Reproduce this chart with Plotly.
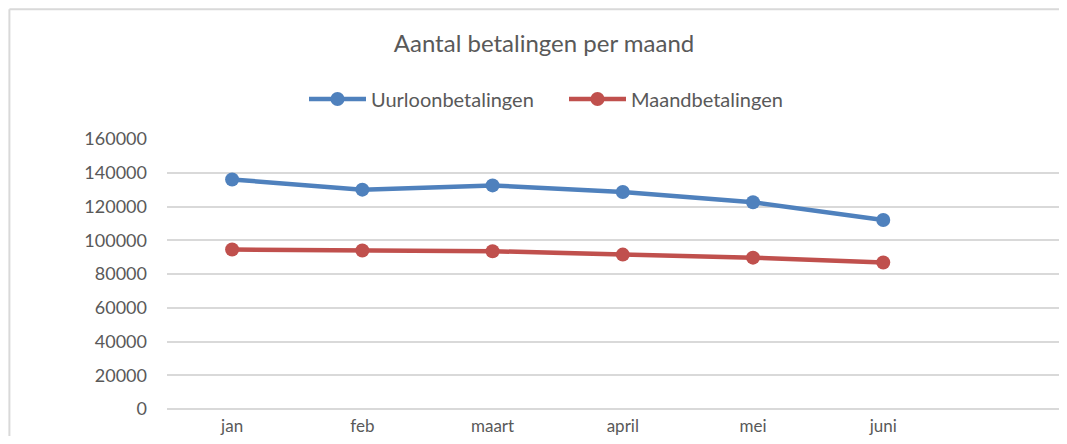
import plotly.graph_objects as go

months = ["jan", "feb", "maart", "april", "mei", "juni"]
uurloon = [136000, 130000, 132500, 128600, 122500, 112000]
maand = [94500, 93900, 93500, 91500, 89700, 86800]
y_ticks = [0, 20000, 40000, 60000, 80000, 100000, 120000, 140000, 160000]

# page body has an 8px margin, so the figure is drawn at (8, 8)
OFF = 8
W, H = 1067 - 2 * OFF, 444 - 2 * OFF
ML, MR, MT = 166.5 - OFF, 0, 138.7 - OFF
MB = H - (409 - OFF)
slot = 130.3
x_max = (W - ML - MR) / slot - 0.5
idx = list(range(len(months)))

FONT = "Lato"
GREY = "#595959"

fig = go.Figure()
fig.add_trace(go.Scatter(x=idx, y=uurloon, name="Uurloonbetalingen", mode="lines+markers",
                         line=dict(color="#4F81BD", width=4.5),
                         marker=dict(size=14, color="#4F81BD")))
fig.add_trace(go.Scatter(x=idx, y=maand, name="Maandbetalingen", mode="lines+markers",
                         line=dict(color="#C0504D", width=4.5),
                         marker=dict(size=14, color="#C0504D")))

pw = W - ML - MR
ph = H - MT - MB
# chart border (outside of plot area), in paper coords
bx = (0.8 - ML) / pw
by = 1 + (MT - 0.8) / ph
fig.add_shape(type="line", xref="paper", yref="paper", x0=bx, x1=bx, y0=-1, y1=by,
              line=dict(color="#d9d9d9", width=2))
fig.add_shape(type="line", xref="paper", yref="paper", x0=bx, x1=2, y0=by, y1=by,
              line=dict(color="#d9d9d9", width=2))

fig.update_layout(
    width=W, height=H,
    margin=dict(l=ML, r=MR, t=MT, b=MB, pad=0, autoexpand=False),
    paper_bgcolor="white", plot_bgcolor="white",
    font=dict(family=FONT, color=GREY),
    title=dict(text="Aantal betalingen per maand", x=(544 - OFF) / W, xanchor="center",
               y=1 - (44 - OFF) / H, yanchor="middle", xref="container", yref="container",
               font=dict(size=24, color=GREY, family=FONT)),
    legend=dict(orientation="h", x=(304 - OFF) / W, xanchor="left",
                y=1 - (99 - OFF) / H, yanchor="middle",
                xref="container", yref="container",
                font=dict(size=20, color=GREY, family=FONT), itemwidth=57,
                entrywidth=188, entrywidthmode="pixels",
                bgcolor="rgba(0,0,0,0)"),
    showlegend=True,
)
fig.update_xaxes(range=[-0.5, x_max], tickvals=idx, ticktext=months, showgrid=False,
                 zeroline=False, showline=False, ticks="", ticklabelstandoff=5,
                 automargin=False,
                 tickfont=dict(size=17, color=GREY, family=FONT), fixedrange=True)
fig.update_yaxes(range=[0, 160000], tickvals=y_ticks, ticktext=[str(v) for v in y_ticks],
                 showgrid=True, gridcolor="#d9d9d9", gridwidth=1.5, zeroline=True,
                 zerolinecolor="#d9d9d9", zerolinewidth=1.5, showline=False, ticks="",
                 ticklabelstandoff=19, automargin=False,
                 tickfont=dict(size=18, color=GREY, family=FONT), fixedrange=True)

fig.write_html("out.html")
